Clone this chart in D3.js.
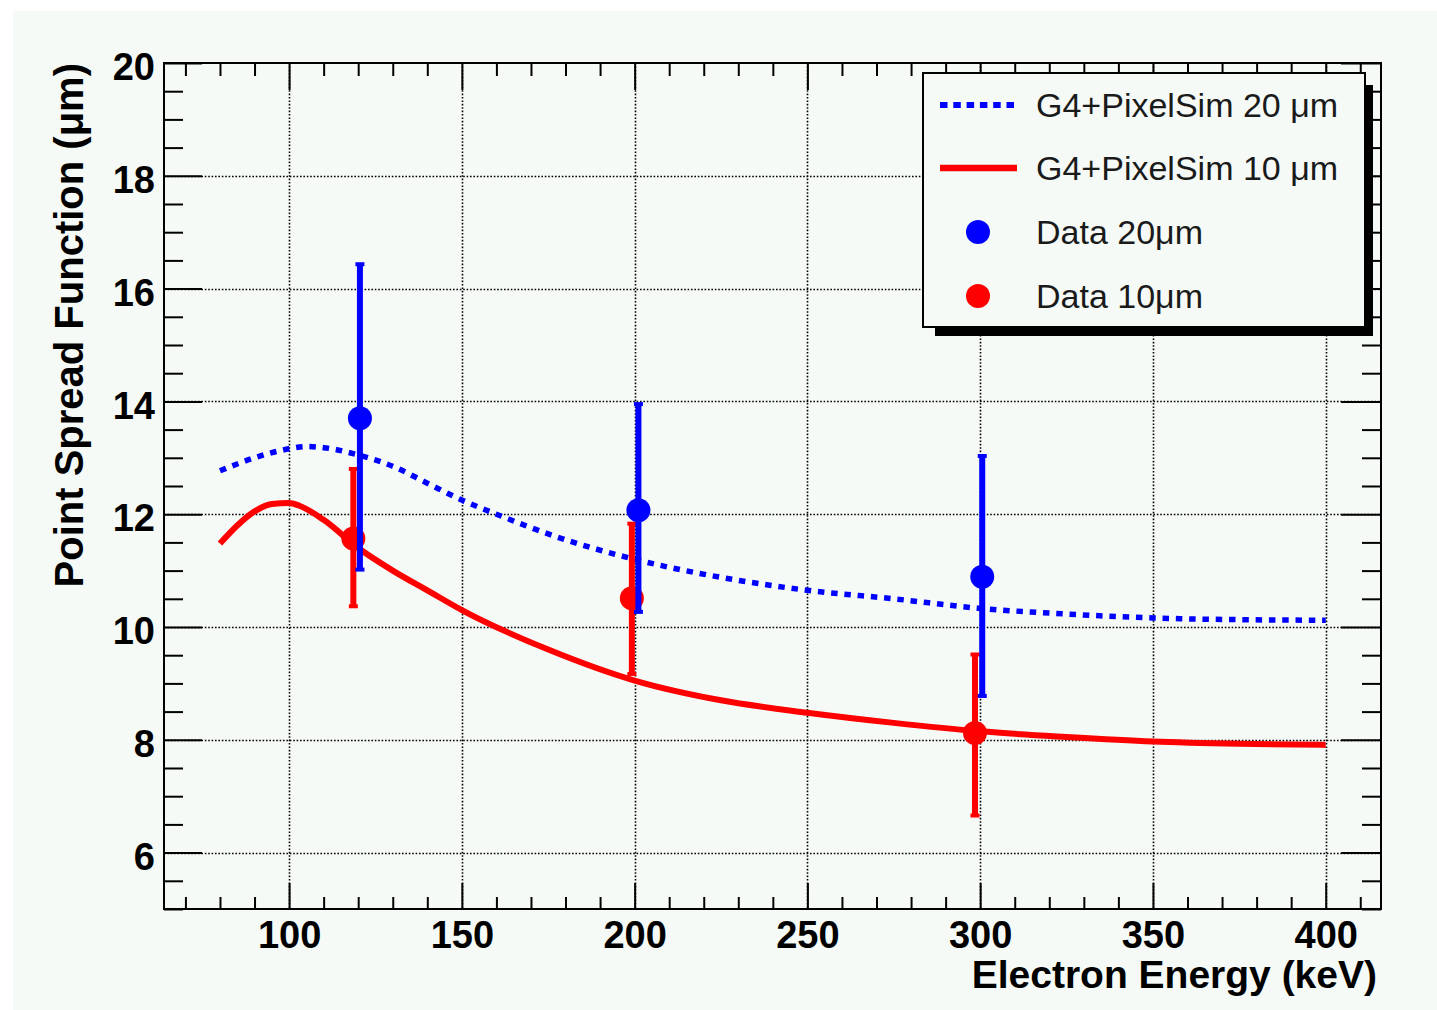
<!DOCTYPE html>
<html>
<head>
<meta charset="utf-8">
<script src="https://cdn.jsdelivr.net/npm/d3@7"></script>
<style>
  body { margin: 0; background: #ffffff; }
  svg { display: block; font-family: 'Liberation Sans', Arial, Helvetica, sans-serif; }
</style>
</head>
<body>
<div class="vis-psf"></div>
<script>
// simulation curves (energy in keV, PSF in um)
const simEnergy = [80, 90, 100, 105, 110, 120, 130, 140, 150, 160, 175, 200, 225, 250, 275, 300, 325, 350, 375, 400];
const sim20 = [12.77, 13.0, 13.16, 13.2, 13.18, 13.05, 12.85, 12.55, 12.25, 12.0, 11.65, 11.2, 10.88, 10.65, 10.5, 10.33, 10.23, 10.16, 10.13, 10.12];
const simEnergy10 = [80, 85, 90, 95, 100, 103, 110, 120, 130, 140, 150, 175, 200, 225, 250, 275, 300, 325, 350, 375, 400];
const sim10 = [11.48, 11.8, 12.05, 12.18, 12.2, 12.15, 11.9, 11.4, 11.0, 10.65, 10.3, 9.6, 9.05, 8.7, 8.48, 8.3, 8.15, 8.05, 7.97, 7.93, 7.91];

// measured points
const data20Energy = [120.5, 201.1, 300.6];
const data20 = [13.7, 12.07, 10.89];
const data20ErrLow = [2.7, 1.82, 2.13];
const data20ErrHigh = [2.75, 1.9, 2.16];
const data10Energy = [118.6, 199.2, 298.5];
const data10 = [11.57, 10.51, 8.12];
const data10ErrLow = [1.22, 1.36, 1.48];
const data10ErrHigh = [1.25, 1.34, 1.41];

const xMajor = [100, 150, 200, 250, 300, 350, 400];
const yMajor = [6, 8, 10, 12, 14, 16, 18, 20];
const legendLabels = ['G4+PixelSim 20 \u03bcm', 'G4+PixelSim 10 \u03bcm', 'Data 20\u03bcm', 'Data 10\u03bcm'];

const W = 1437, H = 1010;
const margin = { top: 63, right: 56, bottom: 101, left: 164 };
const width = W - margin.left - margin.right;
const height = H - margin.top - margin.bottom;
const blue = '#0000ff', red = '#ff0000', panel = '#f6faf7';

const svg = d3.select('.vis-psf').append('svg')
    .attr('width', W)
    .attr('height', H);

svg.append('rect').attr('width', W).attr('height', H).attr('fill', '#ffffff');
svg.append('rect').attr('x', 13).attr('y', 11).attr('width', W - 13).attr('height', H - 11).attr('fill', panel);

const g = svg.append('g')
    .attr('transform', 'translate(' + margin.left + ',' + margin.top + ')');

const x = d3.scaleLinear().domain([63.8, 416]).range([0, width]);
const y = d3.scaleLinear().domain([5, 20]).range([height, 0]);

const xMinor = d3.range(70, 411, 10).filter(v => v % 50 !== 0);
const yMinor = d3.range(5, 20, 0.5).filter(v => v % 2 !== 0);

// grid
g.append('g').selectAll('line')
    .data(xMajor)
    .enter().append('line')
    .attr('x1', d => Math.round(x(d)) + 0.5).attr('x2', d => Math.round(x(d)) + 0.5)
    .attr('y1', 0).attr('y2', height)
    .attr('stroke', '#000').attr('stroke-width', 1.6)
    .attr('stroke-dasharray', '1.6,1.8');
g.append('g').selectAll('line')
    .data(yMajor.filter(v => v < 20))
    .enter().append('line')
    .attr('y1', d => Math.round(y(d)) + 0.5).attr('y2', d => Math.round(y(d)) + 0.5)
    .attr('x1', 0).attr('x2', width)
    .attr('stroke', '#000').attr('stroke-width', 1.6)
    .attr('stroke-dasharray', '1.6,1.8');

// axes
function styleAxis(sel) {
    sel.select('.domain').remove();
    sel.selectAll('line').attr('stroke', '#000').attr('stroke-width', 2);
    sel.selectAll('text')
        .attr('fill', '#000')
        .style('font-size', '38px')
        .style('font-weight', 'bold');
}

g.append('g').attr('transform', 'translate(0,' + height + ')')
    .call(d3.axisBottom(x).tickValues(xMajor).tickSize(-26).tickSizeOuter(0).tickPadding(12).tickFormat(d3.format('d')))
    .call(styleAxis);
g.append('g').attr('transform', 'translate(0,' + height + ')')
    .call(d3.axisBottom(x).tickValues(xMinor).tickSize(-12).tickSizeOuter(0).tickFormat(''))
    .call(styleAxis);
g.append('g')
    .call(d3.axisTop(x).tickValues(xMajor).tickSize(-27).tickSizeOuter(0).tickFormat(''))
    .call(styleAxis);
g.append('g')
    .call(d3.axisTop(x).tickValues(xMinor).tickSize(-13).tickSizeOuter(0).tickFormat(''))
    .call(styleAxis);

g.append('g')
    .call(d3.axisLeft(y).tickValues(yMajor).tickSize(-38).tickSizeOuter(0).tickPadding(9).tickFormat(d3.format('d')))
    .call(styleAxis)
    .selectAll('text').attr('dy', '0.44em');
g.append('g')
    .call(d3.axisLeft(y).tickValues(yMinor).tickSize(-19).tickSizeOuter(0).tickFormat(''))
    .call(styleAxis);
g.append('g').attr('transform', 'translate(' + width + ',0)')
    .call(d3.axisRight(y).tickValues(yMajor).tickSize(-40).tickSizeOuter(0).tickFormat(''))
    .call(styleAxis);
g.append('g').attr('transform', 'translate(' + width + ',0)')
    .call(d3.axisRight(y).tickValues(yMinor).tickSize(-19).tickSizeOuter(0).tickFormat(''))
    .call(styleAxis);

// frame
g.append('rect')
    .attr('width', width).attr('height', height)
    .attr('fill', 'none').attr('stroke', '#000').attr('stroke-width', 2);

// titles
svg.append('text')
    .attr('x', 1377).attr('y', 988)
    .attr('text-anchor', 'end')
    .style('font-size', '39px').style('font-weight', 'bold')
    .text('Electron Energy (keV)');
svg.append('text')
    .attr('transform', 'translate(83,63) rotate(-90)')
    .attr('text-anchor', 'end')
    .style('font-size', '40px').style('font-weight', 'bold')
    .text('Point Spread Function (\u03bcm)');

// curves
const line = d3.line()
    .x(d => x(d[0]))
    .y(d => y(d[1]))
    .curve(d3.curveMonotoneX);

g.append('path')
    .datum(d3.zip(simEnergy10, sim10))
    .attr('d', line)
    .attr('fill', 'none').attr('stroke', red).attr('stroke-width', 6);
g.append('path')
    .datum(d3.zip(simEnergy, sim20))
    .attr('d', line)
    .attr('fill', 'none').attr('stroke', blue).attr('stroke-width', 5.5)
    .attr('stroke-dasharray', '6.5,6.8');

// data points with error bars
function drawPoints(energy, vals, lo, hi, color) {
    const pts = energy.map((e, i) => ({ e: e, v: vals[i], lo: vals[i] - lo[i], hi: vals[i] + hi[i] }));
    const grp = g.append('g');
    grp.selectAll('.bar').data(pts).enter().append('line')
        .attr('x1', d => x(d.e)).attr('x2', d => x(d.e))
        .attr('y1', d => y(d.lo)).attr('y2', d => y(d.hi))
        .attr('stroke', color).attr('stroke-width', 6);
    grp.selectAll('.capTop').data(pts).enter().append('rect')
        .attr('x', d => x(d.e) - 4.5).attr('y', d => y(d.hi) - 1)
        .attr('width', 9).attr('height', 4).attr('fill', color);
    grp.selectAll('.capBot').data(pts).enter().append('rect')
        .attr('x', d => x(d.e) - 4.5).attr('y', d => y(d.lo) - 3)
        .attr('width', 9).attr('height', 4).attr('fill', color);
    grp.selectAll('circle').data(pts).enter().append('circle')
        .attr('cx', d => x(d.e)).attr('cy', d => y(d.v))
        .attr('r', 12).attr('fill', color);
}
drawPoints(data10Energy, data10, data10ErrLow, data10ErrHigh, red);
drawPoints(data20Energy, data20, data20ErrLow, data20ErrHigh, blue);

// legend
const lx = 923, ly = 73, lw = 442, lh = 254;
svg.append('rect')
    .attr('x', lx + 12).attr('y', ly + 12)
    .attr('width', lw - 4).attr('height', lh - 3)
    .attr('fill', '#000');
svg.append('rect')
    .attr('x', lx).attr('y', ly)
    .attr('width', lw).attr('height', lh)
    .attr('fill', panel).attr('stroke', '#000').attr('stroke-width', 2);

const rowY = [105, 168, 232, 296];
const legendG = svg.selectAll('.legend')
    .data(legendLabels)
    .enter().append('g')
    .attr('class', 'legend')
    .attr('transform', (d, i) => 'translate(0,' + rowY[i] + ')');

legendG.each(function (d, i) {
    const item = d3.select(this);
    if (i === 0) {
        item.append('line').attr('x1', 940).attr('x2', 1017).attr('y1', 0).attr('y2', 0)
            .attr('stroke', blue).attr('stroke-width', 6).attr('stroke-dasharray', '7.5,5.8');
    } else if (i === 1) {
        item.append('line').attr('x1', 940).attr('x2', 1017).attr('y1', 0).attr('y2', 0)
            .attr('stroke', red).attr('stroke-width', 6.5);
    } else {
        item.append('circle').attr('cx', 978).attr('cy', 0).attr('r', 12)
            .attr('fill', i === 2 ? blue : red);
    }
    item.append('text')
        .attr('x', 1036).attr('y', 12)
        .attr('fill', '#1a1a1a')
        .style('font-size', '34px')
        .text(d);
});
</script>
</body>
</html>
